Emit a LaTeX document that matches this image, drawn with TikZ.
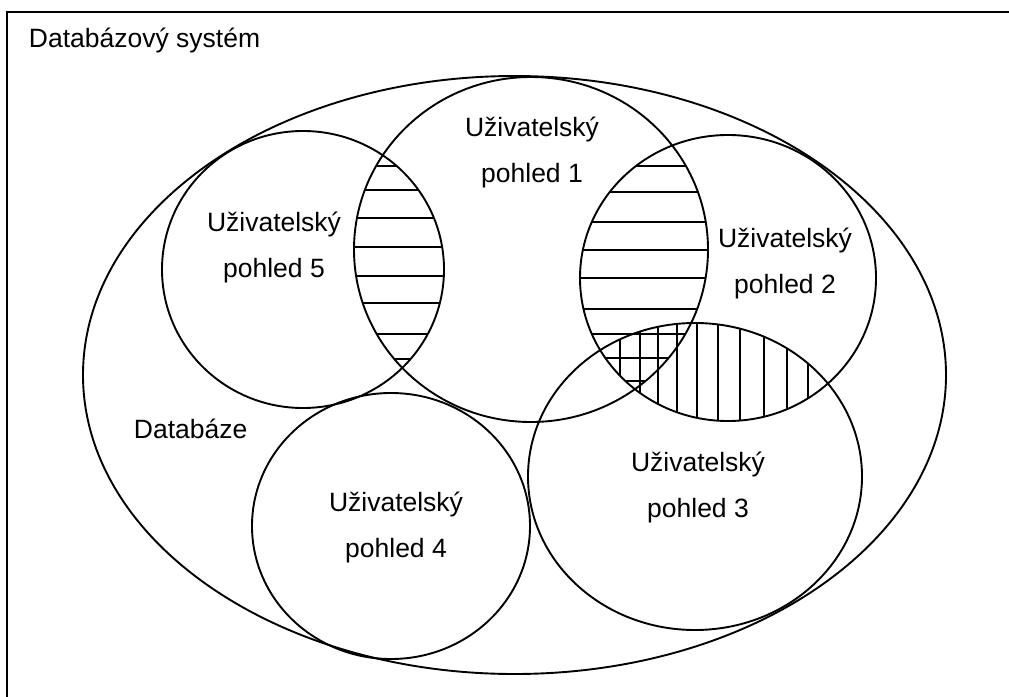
\documentclass[tikz,border=0pt]{standalone}
\usepackage{fontspec}
\setmainfont{Liberation Sans}

% ellipse geometry of the database and the five user views
\def\dbE{(514.5,375) ellipse [x radius=431.5, y radius=299]}
\def\vOne{(531,249.5) ellipse [x radius=177, y radius=172.5]}
\def\vTwo{(728,278) ellipse [x radius=148, y radius=143]}
\def\vThree{(695,476.5) ellipse [x radius=167, y radius=153.5]}
\def\vFour{(391,526) ellipse [x radius=139, y radius=133]}
\def\vFive{(303,269.5) ellipse [x radius=141, y radius=138.5]}

\begin{document}
\begin{tikzpicture}[x=1pt, y=-1pt, line width=1.9pt,
  outline/.style={draw=black, line width=1.9pt},
  hatch/.style={draw=black, line width=1.8pt},
  txt/.style={font=\fontsize{26.5}{46}\selectfont, inner sep=0pt, text=black},
  viewlabel/.style={txt, align=center, anchor=base}]
\useasboundingbox (0,0) rectangle (1009,696);

% frame of the database system (open to the right and bottom)
\coordinate (frameTR) at (1012,11.7);
\coordinate (frameTL) at (7.3,11.7);
\coordinate (frameBL) at (7.3,700);
\draw[line width=2.2pt] (frameTR) -- (frameTL) -- (frameBL);

% horizontal hatching: views 5 and 1 overlap
\begin{scope}
  \clip \vOne;
  \clip \vFive;
  \foreach \yy in {166,190,218,247,276,303,334,359}
    \draw[hatch] (330,\yy) -- (470,\yy);
\end{scope}

% horizontal hatching: views 1 and 2 overlap
\begin{scope}
  \clip \vOne;
  \clip \vTwo;
  \foreach \yy in {166,192,222,250,278,309,334,358,381}
    \draw[hatch] (560,\yy) -- (720,\yy);
\end{scope}

% vertical hatching: views 2 and 3 overlap
\begin{scope}
  \clip \vTwo;
  \clip \vThree;
  \foreach \xx in {620,640,658,677,697,718,740,764,787,808}
    \draw[hatch] (\xx,300) -- (\xx,440);
\end{scope}

% outlines
\path[outline] \dbE;
\path[outline] \vOne;
\path[outline] \vTwo;
\path[outline] \vThree;
\path[outline] \vFour;
\path[outline] \vFive;

% texts (base anchor sits on the second line)
\node[txt, anchor=base west] (sys) at (28,47) {Databázový systém};
\node[txt, anchor=base west] (db) at (133,438) {Databáze};
\node[viewlabel] (l1) at (532,182) {Uživatelský\\pohled 1};
\node[viewlabel] (l2) at (785,293) {Uživatelský\\pohled 2};
\node[viewlabel] (l3) at (698,517) {Uživatelský\\pohled 3};
\node[viewlabel] (l4) at (396,557) {Uživatelský\\pohled 4};
\node[viewlabel] (l5) at (274,277) {Uživatelský\\pohled 5};
\end{tikzpicture}
\end{document}
